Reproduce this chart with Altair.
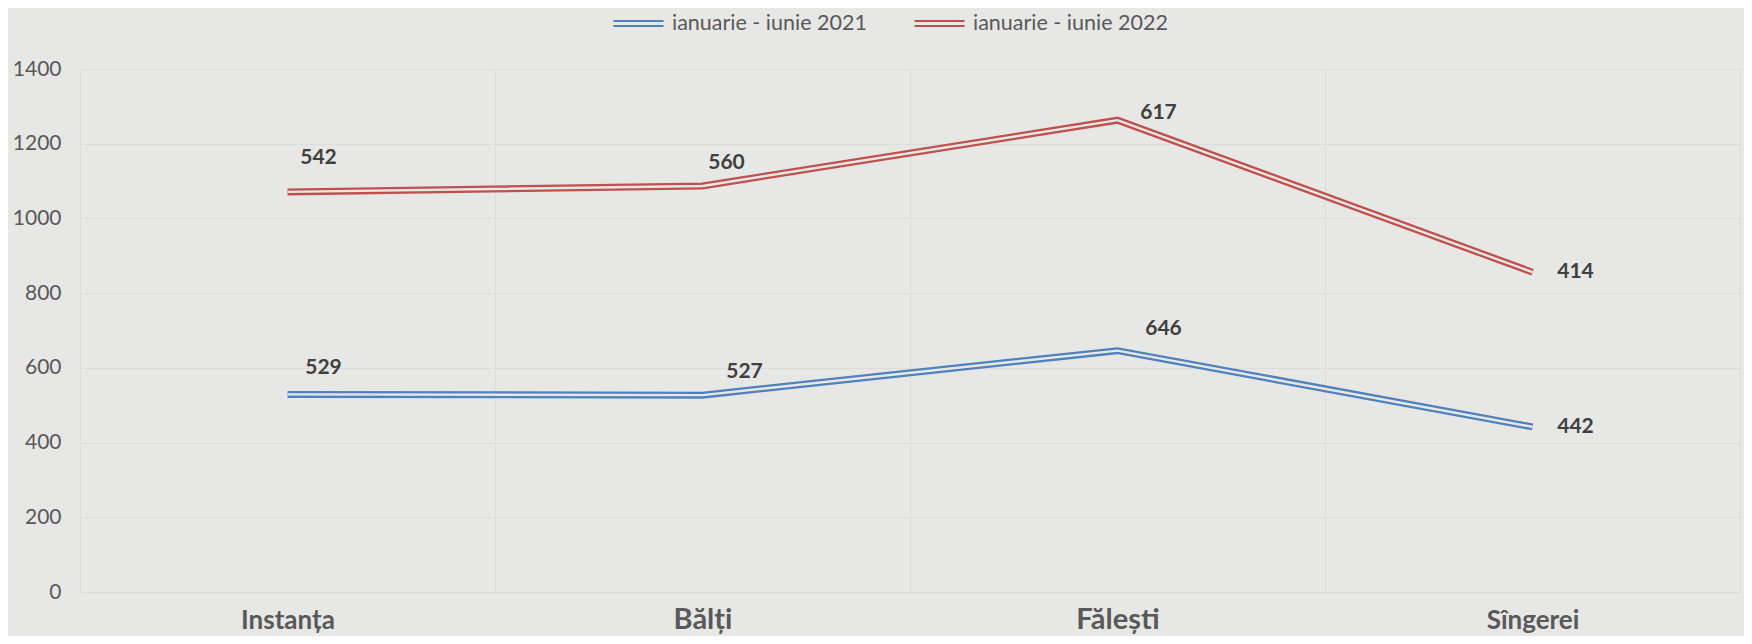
import altair as alt
import pandas as pd

categories = ["Instanța", "Bălți", "Fălești", "Sîngerei"]
series = ["ianuarie - iunie 2021", "ianuarie - iunie 2022"]
values_2021 = [529, 527, 646, 442]
values_2022 = [542, 560, 617, 414]
y_ticks = [0, 200, 400, 600, 800, 1000, 1200, 1400]

# label offsets in px (style only), per series, in category order
label_dx = {series[0]: [36, 42, 46, 43], series[1]: [31, 24, 41, 43]}
label_dy = {series[0]: [-26, -23, -22, 0], series[1]: [-34, -23, -7, 0]}

rows = []
for i, c in enumerate(categories):
    rows.append({"cat": c, "idx": i, "series": series[0], "value": values_2021[i]})
    rows.append({"cat": c, "idx": i, "series": series[1], "value": values_2022[i]})
df = pd.DataFrame(rows)

BG = "#E7E7E5"
GRID = "#DCDCDA"
FONT = "Lato"

base = alt.Chart(df).transform_stack(
    stack="value", groupby=["cat"], as_=["y0", "y1"],
    sort=[alt.SortField("series", order="ascending")]
)

x = alt.X("cat:N", sort=categories, title=None,
          scale=alt.Scale(type="band", paddingInner=0, paddingOuter=0),
          axis=alt.Axis(tickBand="extent", labelAngle=0, ticks=False, domain=False,
                        labelFont=FONT, labelFontWeight="bold", labelColor="#595959",
                        labelBaseline="alphabetic", labelPadding=36,
                        labelFontSize=alt.condition("datum.value == 'Bălți' || datum.value == 'Fălești'",
                                                    alt.value(29), alt.value(26)),
                        grid=True, gridColor=GRID, gridWidth=1))
y = alt.Y("y1:Q", title=None,
          scale=alt.Scale(domain=[0, 1400], nice=False),
          axis=alt.Axis(values=y_ticks, format="d", ticks=False, domain=False, labelFont=FONT,
                        labelFontSize=21, labelColor="#595959", labelPadding=19,
                        gridColor=GRID, gridWidth=1))

color = alt.Color("series:N", scale=alt.Scale(domain=series, range=["#4F81BD", "#C0504D"]),
                  legend=alt.Legend(title=None, orient="none", direction="horizontal",
                                    legendX=532, legendY=-72,
                                    symbolType="M-1,-0.1L1,-0.1M-1,0.1L1,0.1",
                                    symbolSize=2500, symbolStrokeWidth=2.2,
                                    labelFont=FONT, labelFontSize=21.5, labelColor="#595959",
                                    labelLimit=0, labelOffset=7, columnPadding=43))

outer = base.mark_line(strokeWidth=7, strokeCap="butt", strokeJoin="miter").encode(
    x=x, y=y, color=color, order="idx:Q")
inner = base.mark_line(strokeWidth=2.4, strokeCap="butt", strokeJoin="miter", color=BG).encode(
    x=x, y=y, detail="series:N", order="idx:Q")

label_layers = []
for s in series:
    for i, c in enumerate(categories):
        label_layers.append(
            base.transform_filter(
                (alt.datum.series == s) & (alt.datum.cat == c)
            ).mark_text(
                font=FONT, fontSize=21, fontWeight="bold", color="#404040",
                dx=label_dx[s][i], dy=label_dy[s][i], align="center", baseline="middle"
            ).encode(x=x, y=y, text="value:Q")
        )

chart = alt.layer(outer, inner, *label_layers).properties(
    width=1660, height=523,
    autosize=alt.AutoSizeParams(type="none"),
    padding={"left": 72, "top": 61, "right": 4, "bottom": 44},
    background=BG,
).configure_view(stroke=None)

chart.save("out.html", embed_options={"renderer": "svg", "actions": False})
